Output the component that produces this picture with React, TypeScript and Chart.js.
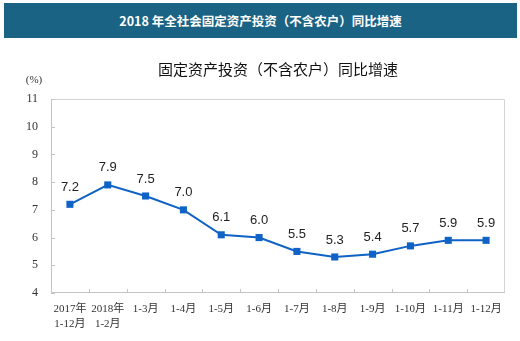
import React, { useEffect, useRef } from 'react';
import { Chart, registerables } from 'chart.js';

Chart.register(...registerables);

const headerTitle = '2018 年全社会固定资产投资（不含农户）同比增速';
const chartTitle = '固定资产投资（不含农户）同比增速';
const unitLabel = '(%)';

const categories: (string | string[])[] = [
  ['2017年', '1-12月'],
  ['2018年', '1-2月'],
  '1-3月',
  '1-4月',
  '1-5月',
  '1-6月',
  '1-7月',
  '1-8月',
  '1-9月',
  '1-10月',
  '1-11月',
  '1-12月',
];
const growth = [7.2, 7.9, 7.5, 7.0, 6.1, 6.0, 5.5, 5.3, 5.4, 5.7, 5.9, 5.9];
const yMin = 4;
const yMax = 11;

const LINE_COLOR = '#0f62c6';
const FRAME_COLOR = '#d4d4d4';
const AXIS_COLOR = '#c4c4c4';
const SERIF = "'Liberation Serif', 'Times New Roman', 'Noto Sans CJK SC', serif";

const framePlugin = {
  id: 'frameAndLabels',
  beforeDatasetsDraw(chart: any) {
    const { ctx, chartArea } = chart;
    const { left, right, top, bottom } = chartArea;
    ctx.save();
    ctx.lineWidth = 1;
    ctx.strokeStyle = FRAME_COLOR;
    ctx.beginPath();
    ctx.moveTo(left + 0.5, top + 0.5);
    ctx.lineTo(right - 0.5, top + 0.5);
    ctx.lineTo(right - 0.5, bottom);
    ctx.stroke();
    ctx.strokeStyle = AXIS_COLOR;
    ctx.beginPath();
    ctx.moveTo(left + 0.5, top);
    ctx.lineTo(left + 0.5, bottom - 0.5);
    ctx.lineTo(right, bottom - 0.5);
    ctx.stroke();
    // inward y ticks
    const ys = chart.scales.y;
    ctx.beginPath();
    ys.ticks.forEach((t: any) => {
      const py = Math.round(ys.getPixelForValue(t.value)) + 0.5;
      ctx.moveTo(left, py);
      ctx.lineTo(left + 4, py);
    });
    // inward x ticks between categories
    const xs = chart.scales.x;
    for (let k = 1; k < categories.length; k++) {
      const px = Math.round((xs.getPixelForValue(k - 1) + xs.getPixelForValue(k)) / 2) + 0.5;
      ctx.moveTo(px, bottom);
      ctx.lineTo(px, bottom - 4);
    }
    ctx.stroke();
    // unit label
    ctx.fillStyle = '#333';
    ctx.font = `11px ${SERIF}`;
    ctx.textAlign = 'center';
    ctx.textBaseline = 'middle';
    ctx.fillText(unitLabel, 34, top - 19);
    ctx.restore();
  },
  afterDatasetsDraw(chart: any) {
    const { ctx } = chart;
    const meta = chart.getDatasetMeta(0);
    ctx.save();
    ctx.fillStyle = '#222';
    ctx.font = "13px 'Liberation Sans', Arial, sans-serif";
    ctx.textAlign = 'center';
    ctx.textBaseline = 'middle';
    meta.data.forEach((pt: any, i: number) => {
      ctx.fillText(growth[i].toFixed(1), pt.x, pt.y - 17);
    });
    ctx.restore();
  },
};

export default function App() {
  const ref = useRef<HTMLCanvasElement>(null);

  useEffect(() => {
    if (!ref.current) return;
    const chart = new Chart(ref.current, {
      type: 'line',
      data: {
        labels: categories,
        datasets: [
          {
            data: growth,
            borderColor: LINE_COLOR,
            backgroundColor: LINE_COLOR,
            borderWidth: 2,
            pointStyle: 'rect',
            pointRadius: 5,
            pointBorderWidth: 0,
            pointBackgroundColor: LINE_COLOR,
            tension: 0,
          },
        ],
      },
      options: {
        animation: false,
        responsive: false,
        maintainAspectRatio: false,
        layout: { padding: { top: 40, left: 0, right: 15, bottom: 0 } },
        plugins: {
          legend: { display: false },
          tooltip: { enabled: false },
          title: {
            display: true,
            text: chartTitle,
            fullSize: false,
            color: '#111',
            font: { size: 15, family: "'Noto Sans CJK SC', sans-serif", weight: 'normal' as any },
            padding: { top: 20, bottom: 21 },
          },
        },
        scales: {
          x: {
            offset: true,
            grid: { display: false, drawTicks: false },
            border: { display: false },
            ticks: {
              color: '#333',
              font: { size: 11, family: SERIF, lineHeight: 1.36 },
              padding: 9,
              maxRotation: 0,
              autoSkip: false,
            },
            afterFit(scale: any) {
              scale.height = 48;
            },
          },
          y: {
            min: yMin,
            max: yMax,
            grid: { display: false, drawTicks: false },
            border: { display: false },
            ticks: {
              stepSize: 1,
              color: '#333',
              font: { size: 12, family: SERIF },
              padding: 13,
            },
            afterFit(scale: any) {
              scale.width = 51;
            },
          },
        },
      },
      plugins: [framePlugin],
    });
    return () => chart.destroy();
  }, []);

  return (
    <div style={{ position: 'fixed', left: 0, top: 0, width: 520, height: 341, background: '#fff' }}>
      <canvas ref={ref} width={520} height={341} style={{ position: 'absolute', left: 0, top: 0 }} />
      <div
        style={{
          position: 'absolute',
          left: 4,
          top: 3,
          width: 513,
          height: 35,
          background: '#1b6384',
          color: '#fff',
          fontFamily: "'Noto Sans CJK SC', sans-serif",
          fontWeight: 'bold',
          fontSize: 12.5,
          lineHeight: '36px',
          textAlign: 'center',
        }}
      >
        {headerTitle}
      </div>
    </div>
  );
}
